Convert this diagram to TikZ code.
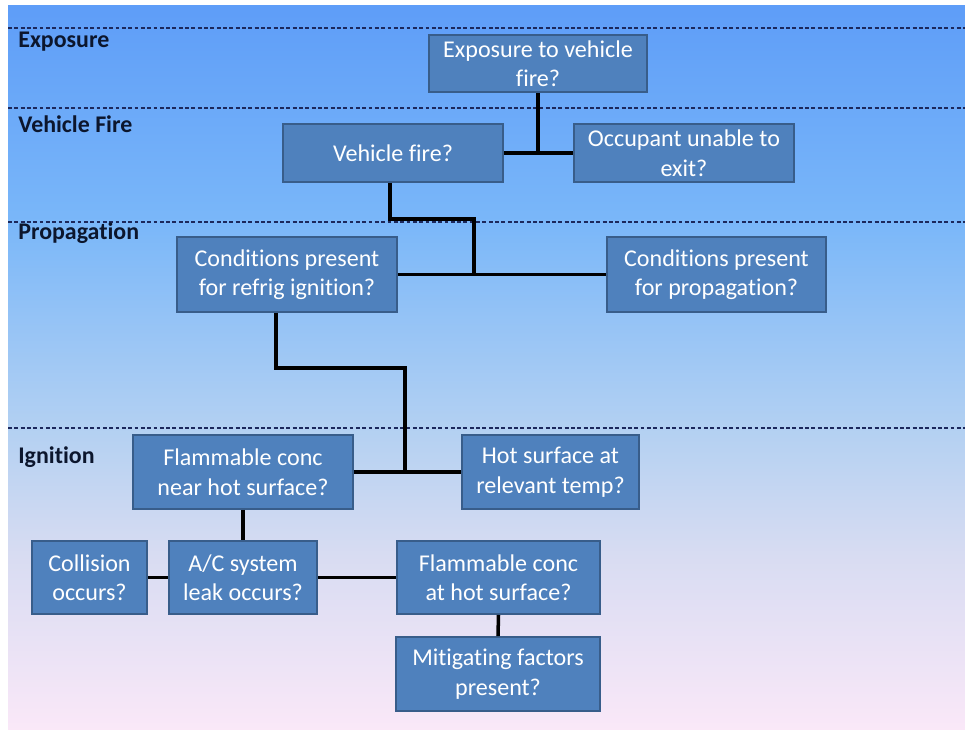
\documentclass[tikz,border=0pt]{standalone}
\usepackage{fontspec}
\setsansfont[Ligatures=NoCommon]{Carlito}
\usepackage{xcolor}
\usepackage{tikz}
\usetikzlibrary{positioning,calc}
\definecolor{BoxFill}{RGB}{79,129,189}
\definecolor{BoxLine}{RGB}{56,93,138}
\definecolor{LaneInk}{RGB}{28,40,92}
\definecolor{Ink}{RGB}{12,22,45}
\definecolor{SkyTop}{RGB}{94,157,248}
\definecolor{SkyMid}{RGB}{122,183,249}
\definecolor{SkyLow}{RGB}{178,208,242}
\definecolor{Haze}{RGB}{216,220,242}
\definecolor{Blush}{RGB}{250,232,248}
\pgfdeclareverticalshading{skyfade}{100bp}{color(0bp)=(Blush); color(25bp)=(Blush); color(37bp)=(Haze); color(46bp)=(SkyLow); color(60bp)=(SkyMid); color(75bp)=(SkyTop); color(100bp)=(SkyTop)}

\begin{document}
\begin{tikzpicture}[
  box/.style={draw=BoxLine,fill=BoxFill,line width=1.1pt,align=center,text=white,font=\sffamily\fontsize{13.7}{16.8}\selectfont,inner sep=0pt},
  lane/.style={draw=LaneInk,line width=0.6pt,dash pattern=on 2.2pt off 1.4pt},
  lanelabel/.style={anchor=west,inner sep=0pt,text=Ink,font=\sffamily\bfseries\fontsize{13.6}{15}\selectfont},
  link/.style={draw=black,line width=2pt}
]
\useasboundingbox (0,0) rectangle (19.3,-14.6);
\fill[white] (0,0) rectangle (19.3,-14.6);
\shade[shading=skyfade] (0.16,-0.1) rectangle (19.3,-14.6);

% swim lanes
\foreach \y in {-0.56,-2.16,-4.44,-8.56}
  \draw[lane] (0.16,\y) -- (19.3,\y);
\node[lanelabel] (lexp) at (0.36,-0.84) {Exposure};
\node[lanelabel] (lfire) at (0.36,-2.48) {Vehicle Fire};
\node[lanelabel] (lprop) at (0.36,-4.66) {Propagation};
\node[lanelabel] (lign) at (0.36,-9.14) {Ignition};

% boxes
\node[box,minimum width=4.36cm,minimum height=1.14cm] (exposure) at (10.76,-1.27) {Exposure to vehicle\\fire?};
\node[box,minimum width=4.4cm,minimum height=1.16cm] (vfire) at (7.86,-3.06) {Vehicle fire?};
\node[box,minimum width=4.4cm,minimum height=1.16cm] (noexit) at (13.68,-3.06) {Occupant unable to\\exit?};
\node[box,minimum width=4.4cm,minimum height=1.5cm] (refrig) at (5.74,-5.49) {Conditions present\\for refrig ignition?};
\node[box,minimum width=4.38cm,minimum height=1.5cm] (spread) at (14.33,-5.49) {Conditions present\\for propagation?};
\node[box,minimum width=4.4cm,minimum height=1.48cm] (nearhot) at (4.86,-9.44) {Flammable conc\\near hot surface?};
\node[box,minimum width=3.54cm,minimum height=1.48cm] (hottemp) at (11.01,-9.44) {Hot surface at\\relevant temp?};
\node[box,minimum width=2.3cm,minimum height=1.46cm] (collision) at (1.79,-11.55) {Collision\\occurs?};
\node[box,minimum width=2.96cm,minimum height=1.46cm] (leak) at (4.86,-11.55) {A/C system\\leak occurs?};
\node[box,minimum width=4.06cm,minimum height=1.46cm] (athot) at (9.97,-11.55) {Flammable conc\\at hot surface?};
\node[box,minimum width=4.08cm,minimum height=1.48cm] (mitigate) at (9.96,-13.48) {Mitigating factors\\present?};

% connectors
\coordinate (jog1) at (9.48,-4.38);
\coordinate (jog2) at (8.1,-7.36);
\draw[link] (vfire.east) -- (noexit.west);
\draw[link] (exposure.south) -- (exposure.south |- vfire.east);
\draw[link] (refrig.east) -- (spread.west);
\draw[link] ([xshift=-0.06cm]vfire.south) |- (jog1) -- (jog1 |- refrig.east);
\draw[link] (nearhot.east) -- (hottemp.west);
\draw[link] ([xshift=-0.22cm]refrig.south) |- (jog2) -- (jog2 |- nearhot.east);
\draw[link] (nearhot.south) -- (leak.north);
\draw[link] (collision.east) -- (leak.west);
\draw[link] (leak.east) -- (athot.west);
\draw[link] (athot.south) -- (mitigate.north);
\end{tikzpicture}
\end{document}
